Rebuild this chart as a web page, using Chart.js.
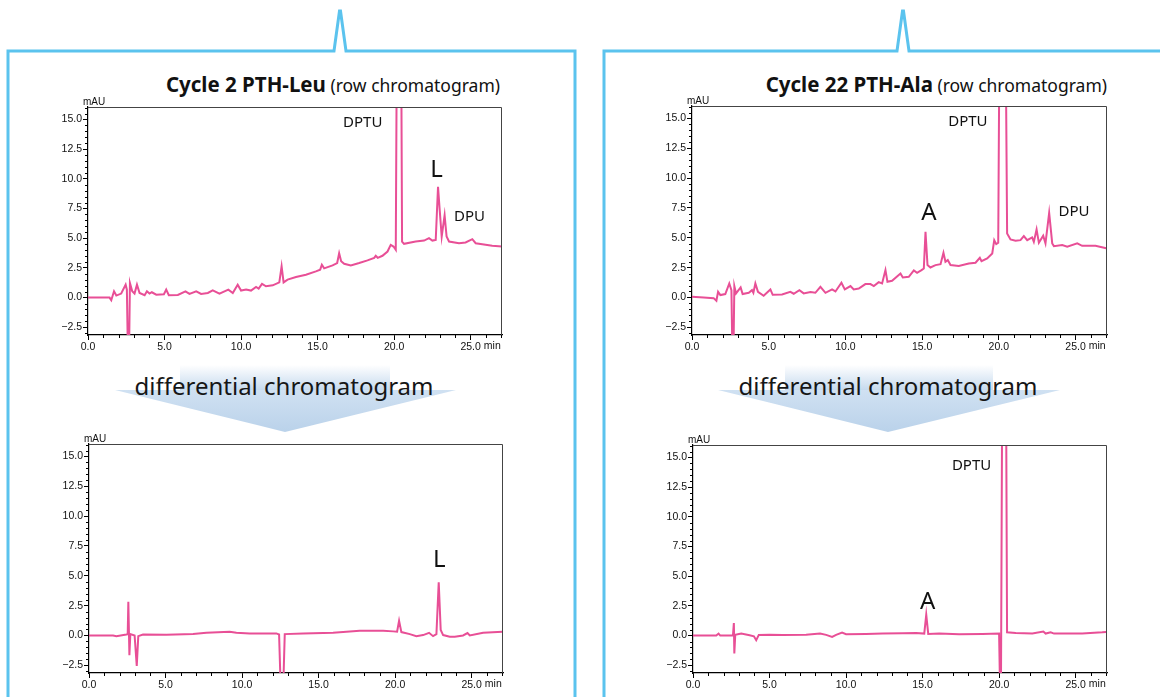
<!DOCTYPE html>
<html>
<head>
<meta charset="utf-8">
<script src="https://cdn.jsdelivr.net/npm/chart.js@4.4.1/dist/chart.umd.min.js"></script>
<style>
  html, body { margin: 0; padding: 0; background: #fff; }
  #page { position: relative; width: 1160px; height: 697px; overflow: hidden; font-family: "Noto Sans", sans-serif; }
  svg.frame { position: absolute; left: 0; top: 0; }
  .title { position: absolute; top: 70px; font-size: 17.5px; color: #111; white-space: nowrap; }
  .title b { font-weight: 700; font-size: 20.5px; }
  .diff { position: absolute; top: 369px; font-size: 24px; color: #161616; white-space: nowrap; transform: translateX(-50%); }
  canvas { position: absolute; }
</style>
</head>
<body>
<div id="page">
  <svg class="frame" width="1160" height="697">
    <defs>
      <linearGradient id="shaft" x1="0" y1="0" x2="0" y2="1">
        <stop offset="0" stop-color="#ffffff"/>
        <stop offset="1" stop-color="#c6daee"/>
      </linearGradient>
      <linearGradient id="head" x1="0" y1="0" x2="0" y2="1">
        <stop offset="0" stop-color="#d0e1f2"/>
        <stop offset="1" stop-color="#bad2ea"/>
      </linearGradient>
    </defs>
    <path d="M8 700 V51 H334 L339.5 11 H340.5 L346 51 H575 V700" fill="none" stroke="#5bc3ee" stroke-width="3"/>
    <path d="M604 700 V51 H897 L902.5 11 H903.5 L909 51 H1165" fill="none" stroke="#5bc3ee" stroke-width="3"/>
    <rect x="180" y="365" width="210" height="25" fill="url(#shaft)"/>
    <polygon points="115,390 456,390 285,432" fill="url(#head)"/>
    <rect x="785" y="365" width="208" height="25" fill="url(#shaft)"/>
    <polygon points="718,390 1060,390 888,432" fill="url(#head)"/>
  </svg>

  <div class="title" style="right:660px"><b>Cycle 2 PTH-Leu</b> (row chromatogram)</div>
  <div class="title" style="right:53px"><b>Cycle 22 PTH-Ala</b> (row chromatogram)</div>
  <div class="diff" style="left:284px">differential chromatogram</div>
  <div class="diff" style="left:888px">differential chromatogram</div>

  <canvas id="leuRaw" width="476" height="264" style="left:38px; top:93px"></canvas>
  <canvas id="alaRaw" width="477" height="265" style="left:642px; top:92px"></canvas>
  <canvas id="leuDiff" width="476" height="265" style="left:39px; top:430px"></canvas>
  <canvas id="alaDiff" width="476" height="264" style="left:643px; top:431px"></canvas>
</div>

<script>
// retention time (min) and absorbance (mAU)

// Cycle 2 PTH-Leu, raw
const leuRawTime = [0, 1.41, 1.52, 1.70, 1.85, 2.17, 2.46, 2.54, 2.65, 2.74, 2.89, 3.04, 3.20, 3.37, 3.70, 3.85, 4.02, 4.17, 4.46, 4.96,
  5.11, 5.28, 5.87, 6.37, 6.63, 7.07, 7.39, 7.83, 8.15, 8.59, 9.17, 9.46, 9.78, 10.00, 10.33, 10.65, 10.98, 11.15, 11.37, 11.63,
  12.07, 12.50, 12.65, 12.78, 13.04, 13.59, 14.24, 14.89, 15.17, 15.28, 15.43, 15.98, 16.28, 16.41, 16.54, 16.74, 17.17, 17.72, 18.26, 18.70,
  18.80, 18.93, 19.24, 19.57, 19.78, 19.96, 20.11, 20.33, 20.52, 20.65, 21.41, 21.96, 22.28, 22.50, 22.72, 22.87, 22.98, 23.11, 23.30, 23.43,
  23.59, 24.24, 24.67, 25.11, 25.33, 25.76, 26.41, 27.07];
const leuRawMAU = [0, 0, -0.22, 0.53, 0.17, 0.34, 1.09, 0.67, -8, 1.23, 0.53, 0.34, 1.09, 0.39, 0.20, 0.53, 0.34, 0.45, 0.25, 0.28,
  0.67, 0.20, 0.22, 0.53, 0.31, 0.53, 0.31, 0.39, 0.61, 0.34, 0.67, 0.39, 1.09, 0.59, 0.67, 0.59, 0.89, 0.75, 1.15, 0.95,
  1.03, 1.28, 2.63, 1.28, 1.51, 1.73, 1.93, 2.21, 2.35, 2.77, 2.46, 2.71, 2.91, 3.74, 3.07, 2.85, 2.71, 2.91, 3.13, 3.35,
  3.52, 3.35, 3.52, 3.88, 4.44, 4.30, 4.02, 60, 4.72, 4.53, 4.72, 4.80, 5.00, 4.80, 4.86, 9.33, 7.37, 5.14, 6.93, 5.14,
  4.72, 4.58, 4.64, 4.92, 4.58, 4.50, 4.36, 4.30];

// Cycle 22 PTH-Ala, raw
const alaRawTime = [0, 0.76, 1.41, 1.59, 1.70, 1.85, 2.17, 2.43, 2.57, 2.67, 2.76, 2.87, 3.17, 3.30, 3.70, 3.91, 4.00, 4.13, 4.30, 4.67,
  5.11, 5.26, 5.87, 6.41, 6.63, 7.00, 7.28, 7.72, 8.04, 8.37, 8.70, 9.13, 9.35, 9.74, 9.96, 10.33, 10.54, 10.87, 11.30, 11.63,
  11.85, 12.17, 12.39, 12.61, 12.74, 13.04, 13.59, 13.74, 14.13, 14.46, 14.67, 14.96, 15.11, 15.22, 15.35, 15.54, 15.87, 16.20, 16.39, 16.52,
  16.67, 16.85, 17.39, 18.04, 18.48, 18.76, 18.87, 19.24, 19.57, 19.70, 19.83, 19.96, 20.22, 20.54, 20.76, 21.09, 21.41, 21.63, 21.85, 22.17,
  22.28, 22.46, 22.61, 22.89, 23.04, 23.28, 23.48, 23.59, 24.13, 24.46, 25.11, 25.43, 26.30, 27.00];
const alaRawMAU = [0.06, 0, -0.06, -0.28, 0.47, 0.20, 0.28, 1.17, 0.61, -8, 0.95, 0.34, 0.84, 0.28, 0.39, 0.61, 0.39, 1.17, 0.47, 0.14,
  0.67, 0.22, 0.25, 0.47, 0.31, 0.61, 0.34, 0.45, 0.39, 0.89, 0.39, 0.67, 0.50, 1.23, 0.67, 0.95, 0.67, 0.75, 1.12, 1.12,
  0.95, 1.28, 1.17, 2.29, 1.31, 1.40, 2.01, 1.68, 1.73, 2.26, 2.07, 2.29, 2.43, 5.50, 2.71, 2.51, 2.71, 2.79, 3.74, 2.99,
  3.13, 2.71, 2.63, 2.85, 2.91, 3.32, 3.04, 3.27, 3.69, 4.80, 4.47, 4.58, 60, 5.36, 4.86, 4.75, 4.80, 5.14, 4.80, 5.03,
  4.66, 5.70, 4.58, 5.17, 4.53, 7.09, 4.53, 4.30, 4.39, 4.25, 4.53, 4.33, 4.33, 4.13];

// Cycle 2 PTH-Leu, differential
const leuDiffTime = [0, 1.57, 1.79, 2.44, 2.53, 2.57, 2.64, 2.70, 2.98, 3.12, 3.22, 3.53, 5.05, 6.80, 7.67, 9.19, 9.63, 10.50, 12.24, 12.42,
  12.61, 12.79, 13.99, 15.95, 17.69, 19.22, 19.87, 20.13, 20.26, 20.41, 20.96, 21.39, 21.83, 22.22, 22.48, 22.70, 22.85, 22.98, 23.14, 23.57,
  23.90, 24.44, 24.73, 24.88, 25.75, 27.02];
const leuDiffMAU = [0, 0, -0.06, 0.08, 0.11, 2.83, -1.65, 0.11, 0, -2.55, -0.06, 0.08, 0.06, 0.11, 0.22, 0.31, 0.22, 0.17, 0.17, 0.08,
  -8, 0.11, 0.17, 0.22, 0.39, 0.39, 0.34, 0.31, 1.23, 0.28, 0.11, -0.06, 0.03, 0.22, -0.06, 0.11, 4.46, 0.45, 0.03, -0.11,
  -0.11, 0, 0.20, 0, 0.22, 0.31];

// Cycle 22 PTH-Ala, differential
const alaDiffTime = [0, 1.52, 1.67, 1.78, 2.61, 2.67, 2.70, 2.76, 3.15, 3.70, 3.98, 4.13, 4.30, 5.00, 5.87, 7.39, 8.30, 8.70, 9.09, 9.35,
  9.74, 10.00, 11.30, 12.39, 13.70, 14.57, 15.11, 15.24, 15.37, 16.09, 17.39, 18.91, 20.00, 20.11, 20.33, 20.52, 21.09, 22.17, 22.89, 23.04,
  23.37, 23.59, 24.35, 25.43, 26.74, 27.00];
const alaDiffMAU = [0, 0, 0.17, 0, 0, 1.06, -1.51, 0.06, 0.17, 0.03, -0.06, -0.39, 0.06, 0.08, 0.06, 0.08, 0.17, 0.06, -0.11, 0.06,
  0.25, 0.11, 0.14, 0.17, 0.20, 0.22, 0.17, 1.76, 0.14, 0.17, 0.11, 0.14, 0.17, -8, 60, 0.28, 0.22, 0.17, 0.34, 0.17,
  0.28, 0.17, 0.17, 0.17, 0.28, 0.31];

// peak labels: [text, time, mAU]
const leuRawPeaks = [["DPTU", 17.95, 14.75], ["L", 22.78, 10.7], ["DPU", 24.93, 6.8]];
const alaRawPeaks = [["DPTU", 17.98, 14.75], ["A", 15.44, 7.05], ["DPU", 24.9, 7.2]];
const leuDiffPeaks = [["L", 22.88, 6.3]];
const alaDiffPeaks = [["DPTU", 18.2, 14.3], ["A", 15.33, 2.85]];

// axis ticks
const xTickValues = [0, 5, 10, 15, 20, 25];
const yTickValues = [-2.5, 0, 2.5, 5, 7.5, 10, 12.5, 15];

const X_MAX = 27.05;
const Y_MIN = -3.15;
const Y_MAX = 16.05;
const PINK = "#e84f96";
const TICK_FONT = { family: "'Liberation Sans', Arial, sans-serif", size: 10.5 };

function fmtTick(v) {
  return v < 0 ? "\u2212" + Math.abs(v).toFixed(1) : v.toFixed(1);
}

// frame lines, minor ticks, units and peak names
const decor = {
  id: "decor",
  afterDraw(chart, args, opts) {
    const ctx = chart.ctx;
    const a = chart.chartArea;
    const xs = chart.scales.x;
    const ys = chart.scales.y;
    ctx.save();

    // top and right edges of the plot box
    ctx.strokeStyle = "#444";
    ctx.lineWidth = 1;
    ctx.beginPath();
    ctx.moveTo(a.left, a.top + 0.5);
    ctx.lineTo(a.right - 0.5, a.top + 0.5);
    ctx.lineTo(a.right - 0.5, a.bottom);
    ctx.stroke();

    // minor ticks
    ctx.strokeStyle = "#000";
    ctx.beginPath();
    for (let t = 1; t <= 27; t++) {
      if (t % 5 === 0) continue;
      const px = Math.round(xs.getPixelForValue(t)) + 0.5;
      ctx.moveTo(px, a.bottom);
      ctx.lineTo(px, a.bottom + 3);
    }
    for (let k = -6; k <= 32; k++) {
      if (k % 5 === 0) continue;
      const py = Math.round(ys.getPixelForValue(k * 0.5)) + 0.5;
      ctx.moveTo(a.left - 3, py);
      ctx.lineTo(a.left, py);
    }
    ctx.stroke();

    // units
    ctx.fillStyle = "#111";
    ctx.font = "10px 'Liberation Sans', Arial, sans-serif";
    ctx.textBaseline = "alphabetic";
    ctx.textAlign = "left";
    ctx.fillText("mAU", a.left - 5, a.top - 2);
    ctx.font = "10.5px 'Liberation Sans', Arial, sans-serif";
    const lastX = xs.getPixelForValue(25);
    const w = ctx.measureText("25.0").width;
    ctx.textBaseline = "top";
    ctx.fillText("min", lastX + w / 2 + 3, a.bottom + 6);

    // peak names
    ctx.textAlign = "center";
    ctx.textBaseline = "middle";
    (opts.items || []).forEach(([text, t, v]) => {
      const size = text.length === 1 ? 24 : 15;
      ctx.font = size + "px 'Noto Sans', sans-serif";
      ctx.fillText(text, xs.getPixelForValue(t), ys.getPixelForValue(v));
    });
    ctx.restore();
  }
};

function makeChart(id, times, values, peaks) {
  const points = times.map((t, i) => ({ x: t, y: values[i] }));
  return new Chart(document.getElementById(id), {
    type: "line",
    data: {
      datasets: [{
        data: points,
        borderColor: PINK,
        borderWidth: 2,
        pointRadius: 0,
        tension: 0,
        fill: false,
      }],
    },
    options: {
      responsive: false,
      animation: false,
      events: [],
      layout: { padding: { top: 14, right: 12, left: 0, bottom: 0 } },
      plugins: {
        legend: { display: false },
        tooltip: { enabled: false },
        decor: { items: peaks },
      },
      scales: {
        x: {
          type: "linear",
          min: 0,
          max: X_MAX,
          afterBuildTicks: (s) => { s.ticks = xTickValues.map((v) => ({ value: v })); },
          afterFit: (s) => { s.height = 22; },
          ticks: { callback: (v) => v.toFixed(1), font: TICK_FONT, color: "#111", padding: 1, maxRotation: 0, autoSkip: false },
          grid: { drawOnChartArea: false, tickLength: 5, tickColor: "#000", tickWidth: 1 },
          border: { color: "#000", width: 1.2 },
        },
        y: {
          min: Y_MIN,
          max: Y_MAX,
          afterBuildTicks: (s) => { s.ticks = yTickValues.map((v) => ({ value: v })); },
          afterFit: (s) => { s.width = 50; },
          ticks: { callback: fmtTick, font: TICK_FONT, color: "#111", padding: 1, autoSkip: false },
          grid: { drawOnChartArea: false, tickLength: 5, tickColor: "#000", tickWidth: 1 },
          border: { color: "#000", width: 1.2 },
        },
      },
    },
    plugins: [decor],
  });
}

makeChart("leuRaw", leuRawTime, leuRawMAU, leuRawPeaks);
makeChart("alaRaw", alaRawTime, alaRawMAU, alaRawPeaks);
makeChart("leuDiff", leuDiffTime, leuDiffMAU, leuDiffPeaks);
makeChart("alaDiff", alaDiffTime, alaDiffMAU, alaDiffPeaks);
</script>
</body>
</html>
